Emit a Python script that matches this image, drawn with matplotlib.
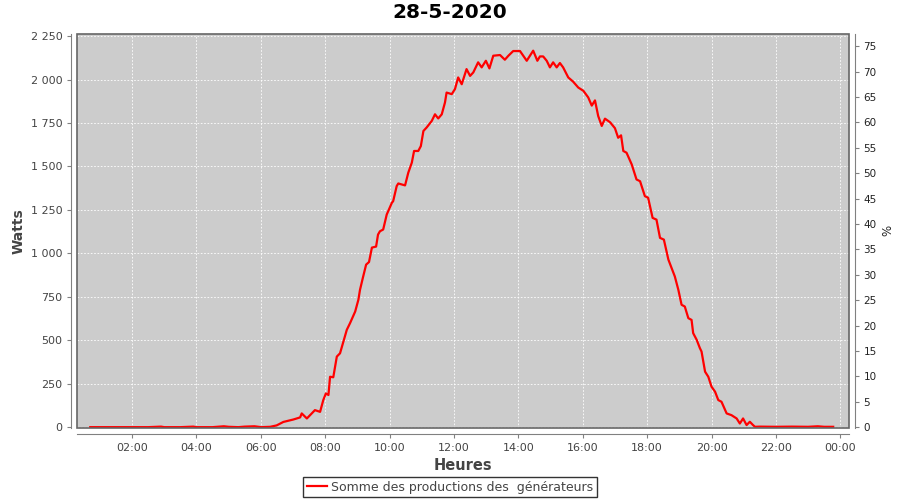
import matplotlib
matplotlib.use("Agg")
import matplotlib.pyplot as plt
from matplotlib.patches import Rectangle
from matplotlib.ticker import FuncFormatter, MultipleLocator

# heures (decimales) et puissance en W
heures = [0.70, 1.00, 1.50, 2.00, 2.50, 2.90, 3.00, 3.50, 3.90, 4.00, 4.50, 4.85, 5.00, 5.30, 5.50,
          5.80, 6.01, 6.29, 6.49, 6.70, 7.01, 7.22, 7.27, 7.43, 7.53, 7.68, 7.84, 7.94, 8.02, 8.10,
          8.15, 8.25, 8.36, 8.46, 8.67, 8.77, 8.93, 9.03, 9.08, 9.17, 9.27, 9.36, 9.45, 9.58, 9.64,
          9.70, 9.80, 9.91, 10.07, 10.11, 10.22, 10.27, 10.48, 10.58, 10.69, 10.76, 10.89, 10.97,
          11.05, 11.15, 11.31, 11.41, 11.51, 11.62, 11.72, 11.77, 11.93, 12.03, 12.13, 12.24, 12.39,
          12.50, 12.60, 12.75, 12.86, 12.99, 13.10, 13.22, 13.43, 13.58, 13.69, 13.84, 14.05, 14.26,
          14.36, 14.46, 14.59, 14.67, 14.77, 14.88, 14.98, 15.08, 15.19, 15.29, 15.39, 15.55, 15.70,
          15.86, 16.02, 16.17, 16.28, 16.38, 16.48, 16.59, 16.69, 16.85, 17.00, 17.10, 17.19, 17.26,
          17.36, 17.52, 17.67, 17.78, 17.93, 18.03, 18.17, 18.29, 18.40, 18.52, 18.66, 18.86, 18.97,
          19.07, 19.17, 19.28, 19.38, 19.43, 19.54, 19.64, 19.69, 19.80, 19.90, 20.00, 20.11, 20.21,
          20.31, 20.47, 20.62, 20.78, 20.88, 20.98, 21.09, 21.19, 21.29, 21.35, 21.50, 22.00, 22.50,
          23.00, 23.30, 23.50, 23.78]
watts = [0, 0, 0, 0, 0, 3, 0, 0, 3, 0, 0, 5, 2, 0, 3,
         5, 0, 2, 10, 30, 44, 56, 79, 50, 69, 98, 88, 156, 194, 185,
         290, 287, 406, 425, 560, 598, 665, 733, 790, 860, 935, 950, 1033, 1039, 1108,
         1127, 1137, 1223, 1291, 1300, 1387, 1402, 1391, 1464, 1522, 1589, 1589, 1617,
         1704, 1724, 1762, 1800, 1776, 1800, 1868, 1925, 1916, 1945, 2012, 1973, 2060,
         2021, 2041, 2099, 2070, 2108, 2064, 2137, 2141, 2114, 2137, 2164, 2164, 2108,
         2137, 2166, 2108, 2133, 2133, 2108, 2070, 2099, 2070, 2095, 2070, 2012, 1988,
         1954, 1935, 1897, 1850, 1880, 1790, 1733, 1775, 1754, 1720, 1665, 1679, 1589,
         1579, 1512, 1425, 1415, 1329, 1320, 1204, 1194, 1089, 1079, 964, 867, 790,
         704, 694, 627, 617, 541, 502, 454, 435, 319, 290, 233, 204, 156,
         146, 79, 69, 50, 21, 50, 12, 31, 12, 2, 3, 2, 3,
         2, 5, 2, 2]

titre = "28-5-2020"
serie = "Somme des productions des  générateurs"
w_pour_100 = 2192 / 75 * 100  # echelle de l'axe %

fig = plt.figure(figsize=(9, 5), dpi=100)
ax = fig.add_axes([0.0856, 0.145, 0.8577, 0.787])
ax.set_facecolor("#cccccc")

ax.plot(heures, watts, color="#ff0000", lw=1.6, label=serie, zorder=3)

ax.set_xlim(0.29, 24.27)
ax.set_ylim(-2, 2262)
ax.xaxis.set_major_locator(MultipleLocator(2))
ax.xaxis.set_major_formatter(FuncFormatter(lambda v, p: "%02d:00" % (int(round(v)) % 24)))
ax.yaxis.set_major_locator(MultipleLocator(250))
ax.yaxis.set_major_formatter(FuncFormatter(lambda v, p: "{:,}".format(int(v)).replace(",", " ")))
ax.grid(True, color="white", ls=(0, (2, 2)), lw=0.6)

for s in ["top", "right"]:
    ax.spines[s].set_visible(False)
ax.spines["left"].set_position(("outward", 4))
ax.spines["bottom"].set_position(("outward", 5))
for s in ["left", "bottom"]:
    ax.spines[s].set_color("#808080")
ax.add_patch(Rectangle((0, 0), 1, 1, transform=ax.transAxes, fill=False,
                       ec="#666666", lw=1.2, zorder=4, clip_on=False))

ax.tick_params(colors="#808080", labelcolor="#444444", labelsize=8, length=3)
ax.set_xlabel("Heures", fontsize=10.5, fontweight="bold", color="#444444", labelpad=3)
ax.set_ylabel("Watts", fontsize=10, fontweight="bold", color="#444444", labelpad=4)

ax2 = ax.twinx()
ax2.set_ylim(-2 / w_pour_100 * 100, 2262 / w_pour_100 * 100)
ax2.yaxis.set_major_locator(MultipleLocator(5))
for s in ["top", "left", "bottom"]:
    ax2.spines[s].set_visible(False)
ax2.spines["right"].set_position(("outward", 4))
ax2.spines["right"].set_color("#808080")
ax2.tick_params(colors="#808080", labelcolor="#222222", labelsize=7.5, length=3)
ax2.set_ylabel("%", fontsize=8.5, color="#222222", labelpad=3)

fig.suptitle(titre, fontsize=14.5, fontweight="bold", y=0.993)

leg = fig.legend(loc="center", bbox_to_anchor=(0.5, 0.026), frameon=True, fancybox=False,
                 fontsize=9, handlelength=1.6, handletextpad=0.3, borderpad=0.3,
                 labelcolor="#444444")
leg.get_frame().set_edgecolor("black")
leg.get_frame().set_linewidth(1.0)

fig.savefig("out.png", dpi=100)
